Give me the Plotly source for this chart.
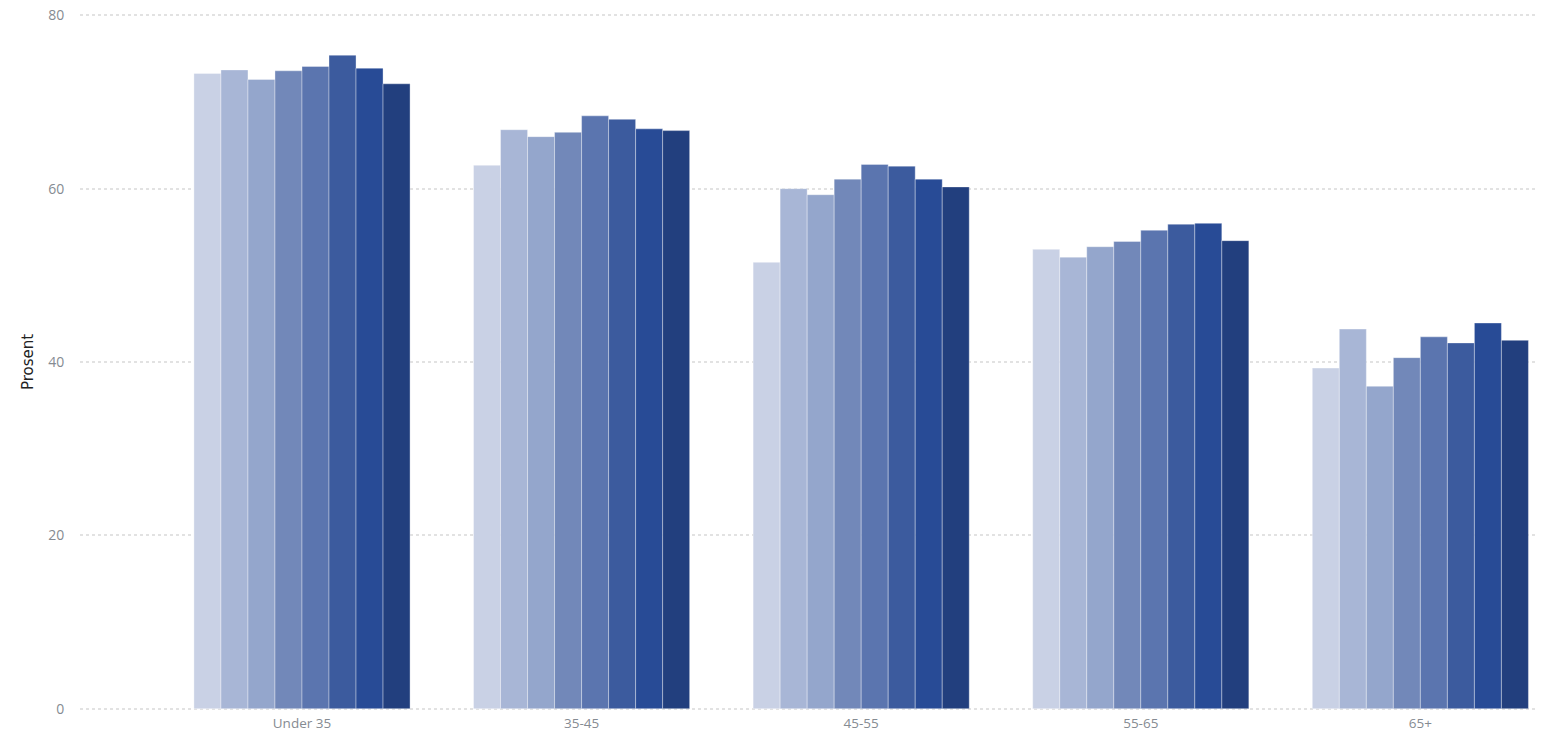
import plotly.graph_objects as go

categories = ["Under 35", "35-45", "45-55", "55-65", "65+"]

series_names = ["Serie 1", "Serie 2", "Serie 3", "Serie 4", "Serie 5", "Serie 6", "Serie 7", "Serie 8"]

# values per series, one entry per age group
s1 = [73.3, 62.7, 51.5, 53.0, 39.3]
s2 = [73.7, 66.8, 60.0, 52.1, 43.8]
s3 = [72.6, 66.0, 59.3, 53.3, 37.2]
s4 = [73.6, 66.5, 61.1, 53.9, 40.5]
s5 = [74.1, 68.4, 62.8, 55.2, 42.9]
s6 = [75.4, 68.0, 62.6, 55.9, 42.2]
s7 = [73.9, 66.9, 61.1, 56.0, 44.5]
s8 = [72.1, 66.7, 60.2, 54.0, 42.5]

colors = ["#c9d1e5", "#a8b6d6", "#94a6cc", "#7288b9",
          "#5b75af", "#3c5b9e", "#284b96", "#223f7e"]

all_series = [s1, s2, s3, s4, s5, s6, s7, s8]

fig = go.Figure()
for name, vals, col in zip(series_names, all_series, colors):
    fig.add_trace(go.Bar(
        x=categories, y=vals, name=name,
        marker=dict(color=col, line=dict(color="rgba(255,255,255,0.35)", width=1)),
    ))

fig.update_layout(
    barmode="group",
    bargap=0.227,
    bargroupgap=0,
    showlegend=False,
    width=1553, height=735,
    margin=dict(l=80, r=18, t=10.66, b=21.66, autoexpand=False),
    paper_bgcolor="white",
    plot_bgcolor="white",
    font=dict(family="Open Sans, sans-serif", size=14, color="#858b92"),
)

fig.update_xaxes(
    range=[-0.794, 4.41],
    showgrid=False, showline=False, zeroline=False,
    ticks="",
    tickfont=dict(size=13.5, color="#858b92"),
)
fig.update_yaxes(
    range=[-0.5, 80.5],
    tickvals=[0, 20, 40, 60, 80],
    showgrid=True, gridcolor="#e2e2e2", griddash="dot", gridwidth=1.5,
    zeroline=False, showline=False,
    ticks="outside", ticklen=12, tickcolor="rgba(0,0,0,0)",
    tickfont=dict(size=14, color="#858b92"),
    title=dict(text="Prosent", font=dict(family="DejaVu Sans, sans-serif", size=15, color="#222"),
               standoff=10),
)

fig.write_html("out.html")
